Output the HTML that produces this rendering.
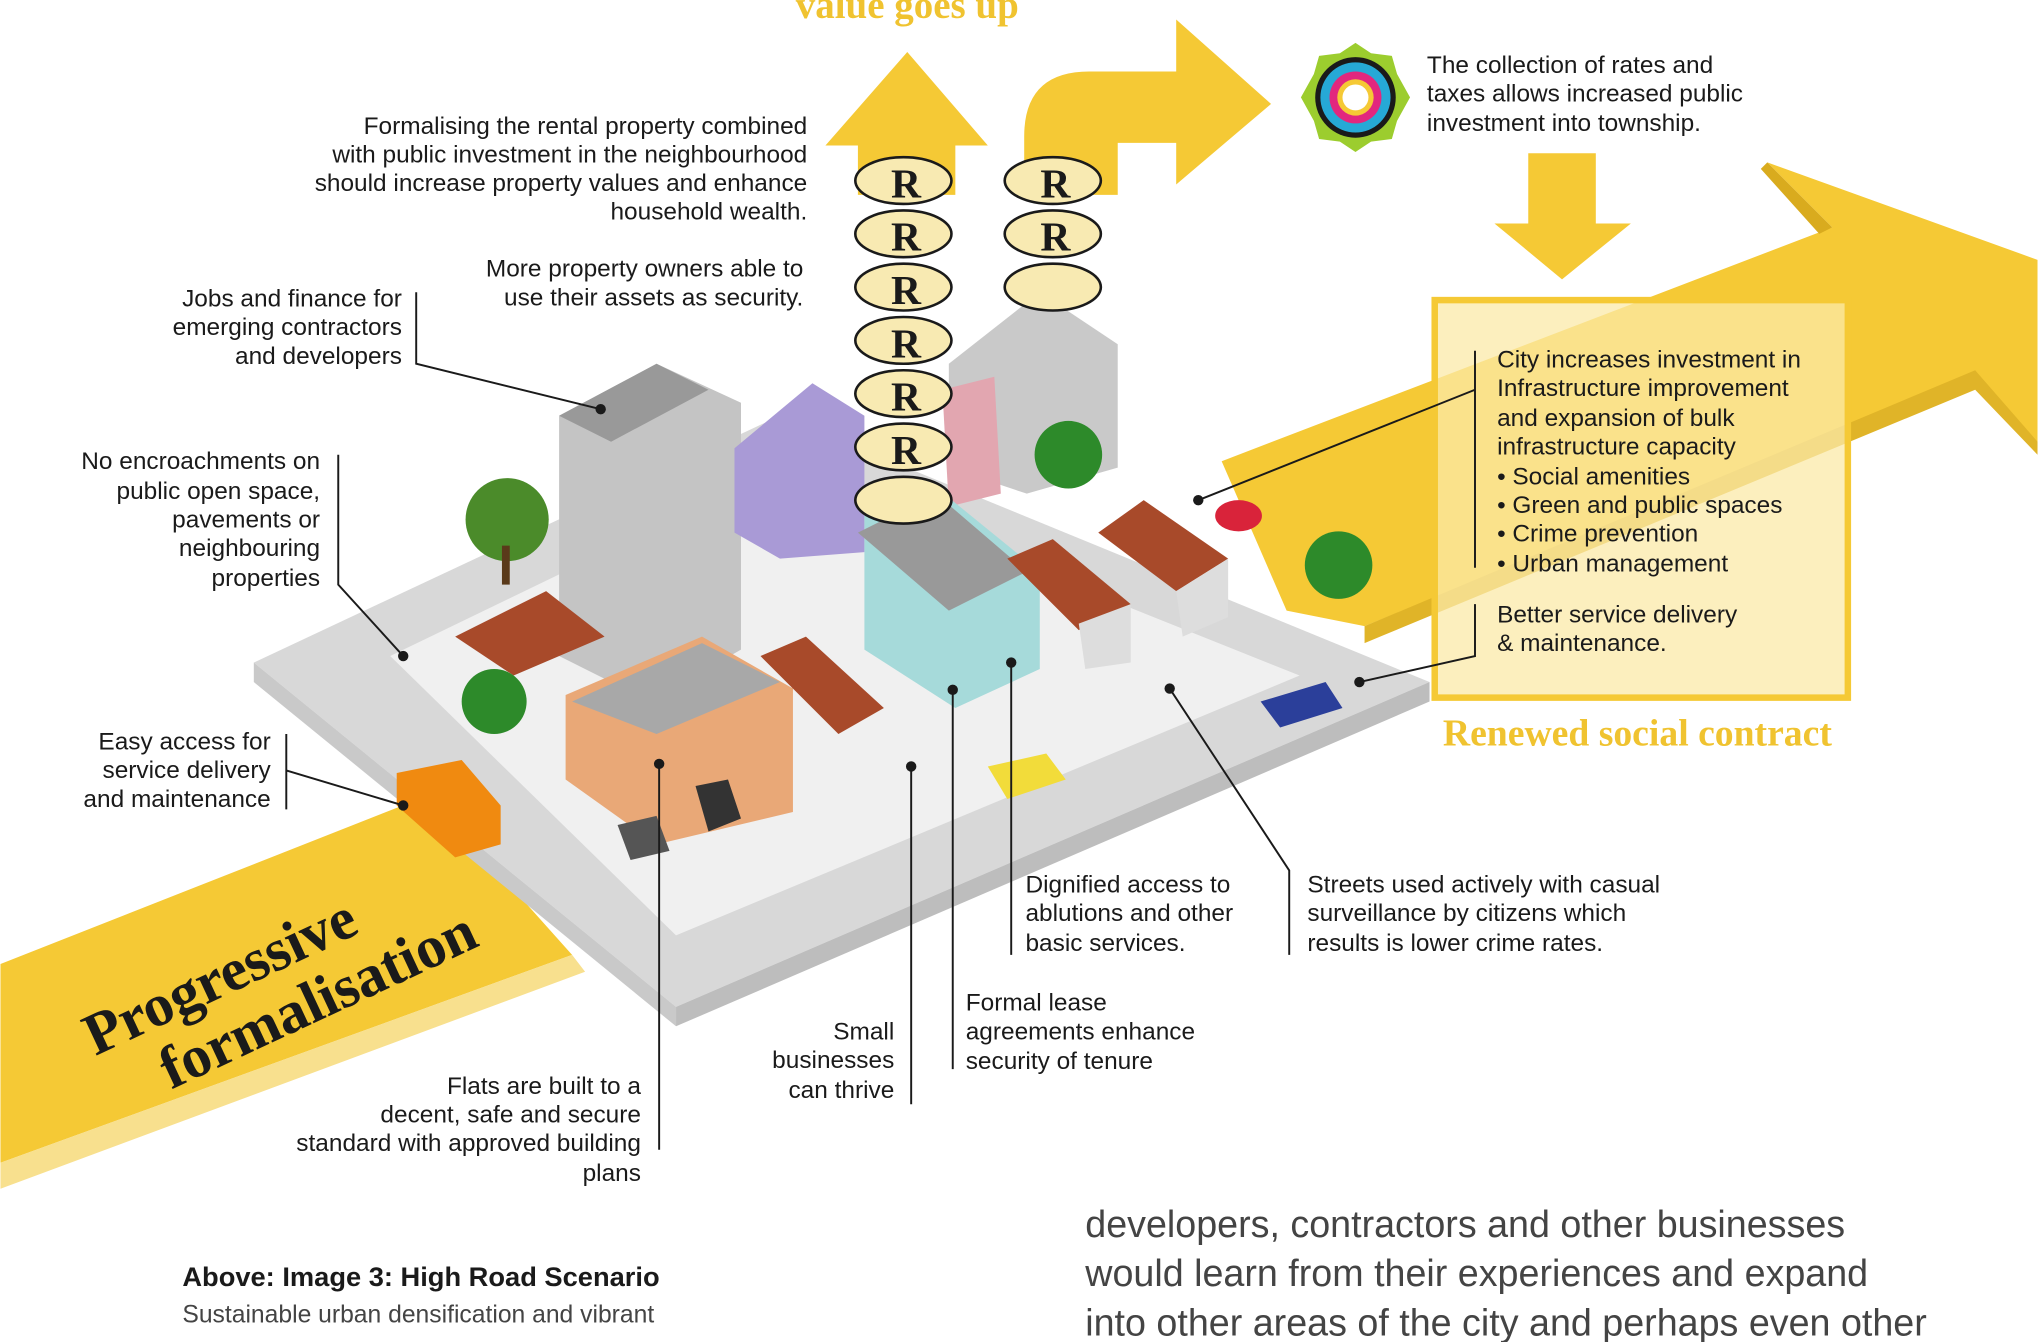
<!DOCTYPE html>
<html><head><meta charset="utf-8"><style>
html,body{margin:0;padding:0;background:#fff;}
svg{display:block;}
text{font-family:"Liberation Sans",sans-serif;fill:#1a1a1a;}
.l{font-size:18.8px;}
text.sf{font-family:"Liberation Serif",serif;font-weight:bold;}
</style></head><body>
<svg width="2038" height="1342" viewBox="0 0 1568 1033" xmlns="http://www.w3.org/2000/svg">
<rect width="1568" height="1033" fill="#fff"/>
<polygon points="940,355 1410,175 1360,125 1568,200 1568,345 1520,290 1050,482 990,470" fill="#f5c935"/>
<polygon points="1360,125 1410,175 1400,180 1355,130" fill="#d9ab1e"/>
<polygon points="1520,285 1568,340 1568,350 1520,300 1050,495 1050,482" fill="#e0b428"/>
<rect x="1104" y="231" width="318" height="306" fill="#fbeaa8" fill-opacity="0.75" stroke="#f5c935" stroke-width="5"/>
<polygon points="0,742 330,612 440,735 0,895" fill="#f5c935"/>
<polygon points="0,895 440,735 450,748 0,915" fill="#f8e08e"/>
<polygon points="635,112 698,40 760,112 735,112 735,150 660,150 660,112" fill="#f5c935"/>
<path d="M788,150 L788,105 Q788,55 838,55 L905,55 L905,15 L978,80 L905,142 L905,110 L860,110 L860,150 Z" fill="#f5c935"/>
<polygon points="1176,118 1228,118 1228,172 1255,172 1202,215 1150,172 1176,172" fill="#f5c935"/>
<g transform="translate(1043,75)">
<polygon points="0,-42 12,-34 28,-32 32,-18 42,0 32,18 28,32 12,34 0,42 -12,34 -28,32 -32,18 -42,0 -32,-18 -28,-32 -12,-34" fill="#9ccd2e"/>
<circle r="31" fill="#1a1a1a"/><circle r="27" fill="#26a9d6"/><circle r="20" fill="#e2277e"/><circle r="14" fill="#f5c935"/><circle r="10" fill="#fff"/>
</g>
<polygon points="195,510 600,320 1100,525 520,775" fill="#d8d8d8"/>
<polygon points="520,775 1100,525 1100,540 520,790" fill="#bdbdbd"/>
<polygon points="195,510 520,775 520,790 195,525" fill="#c9c9c9"/>
<polygon points="300,505 600,360 1000,520 520,720" fill="#f0f0f0"/>
<polygon points="430,320 505,280 570,310 570,500 500,540 430,505" fill="#c4c4c4"/>
<polygon points="430,320 505,280 545,300 470,340" fill="#999"/>
<polygon points="565,345 625,295 665,320 665,425 600,430 565,410" fill="#a99ad6"/>
<polygon points="730,280 800,225 860,265 860,360 790,380 730,360" fill="#c9c9c9"/>
<polygon points="725,300 765,290 770,380 730,390" fill="#e2a6b0"/>
<polygon points="665,395 720,375 800,440 800,515 735,545 665,500" fill="#a6dada"/>
<polygon points="660,410 720,380 790,440 730,470" fill="#999"/>
<polygon points="435,535 540,490 610,530 610,625 505,650 435,600" fill="#e9a877"/>
<polygon points="440,540 540,495 600,525 505,565" fill="#a8a8a8"/>
<polygon points="350,490 420,455 465,490 395,520" fill="#a84a2a"/>
<polygon points="585,505 620,490 680,545 645,565" fill="#a84a2a"/>
<polygon points="775,430 810,415 870,465 830,485" fill="#a84a2a"/>
<polygon points="845,410 880,385 945,430 905,455" fill="#a84a2a"/>
<polygon points="830,480 870,465 870,510 835,515" fill="#ddd"/>
<polygon points="905,455 945,430 945,475 910,490" fill="#ddd"/>
<ellipse cx="953" cy="397" rx="18" ry="12" fill="#d9233a"/>
<circle cx="390" cy="400" r="32" fill="#4b8b2a"/><rect x="386" y="420" width="6" height="30" fill="#5a3a1a"/>
<circle cx="380" cy="540" r="25" fill="#2d8a2a"/>
<circle cx="822" cy="350" r="26" fill="#2d8a2a"/>
<circle cx="1030" cy="435" r="26" fill="#2d8a2a"/>
<polygon points="305,595 355,585 385,620 385,650 350,660 305,620" fill="#f08a10"/>
<polygon points="760,590 805,580 820,600 775,615" fill="#f2dc3a"/>
<polygon points="970,540 1020,525 1033,545 985,560" fill="#2b3f9a"/>
<polygon points="535,605 560,600 570,630 545,640" fill="#333"/>
<polygon points="475,635 505,628 515,655 485,662" fill="#555"/>
<g stroke="#1a1a1a" stroke-width="2" fill="#f8eab2">
<ellipse cx="695" cy="385" rx="37" ry="18"/><ellipse cx="695" cy="344" rx="37" ry="18"/><ellipse cx="695" cy="303" rx="37" ry="18"/><ellipse cx="695" cy="262" rx="37" ry="18"/><ellipse cx="695" cy="221" rx="37" ry="18"/><ellipse cx="695" cy="180" rx="37" ry="18"/><ellipse cx="695" cy="139" rx="37" ry="18"/>
<ellipse cx="810" cy="221" rx="37" ry="18"/><ellipse cx="810" cy="180" rx="37" ry="18"/><ellipse cx="810" cy="139" rx="37" ry="18"/>
</g>
<g font-size="32" text-anchor="middle">
<text class="sf" x="697" y="152">R</text><text class="sf" x="697" y="193">R</text><text class="sf" x="697" y="234">R</text><text class="sf" x="697" y="275">R</text><text class="sf" x="697" y="316">R</text><text class="sf" x="697" y="357">R</text>
<text class="sf" x="812" y="152">R</text><text class="sf" x="812" y="193">R</text>
</g>
<g stroke="#1a1a1a" stroke-width="1.5" fill="none">
<path d="M320,225 L320,280 L462,315"/>
<path d="M260,350 L260,450 L310,505"/>
<path d="M220,565 L220,623 M220,593 L310,620"/>
<path d="M507,588 L507,885"/>
<path d="M701,590 L701,850"/>
<path d="M733,530 L733,823"/>
<path d="M778,510 L778,735"/>
<path d="M900,530 L992,670 L992,735"/>
<path d="M1135,270 L1135,437 M1135,300 L922,385"/>
<path d="M1135,465 L1135,505 L1046,525"/>
</g>
<g fill="#1a1a1a"><circle cx="462" cy="315" r="4"/><circle cx="310" cy="505" r="4"/><circle cx="310" cy="620" r="4"/><circle cx="507" cy="588" r="4"/><circle cx="701" cy="590" r="4"/><circle cx="733" cy="531" r="4"/><circle cx="778" cy="510" r="4"/><circle cx="900" cy="530" r="4"/><circle cx="922" cy="385" r="4"/><circle cx="1046" cy="525" r="4"/></g>
<text class="sf" x="698" y="14" text-anchor="middle" font-size="30" style="fill:#f0c330">value goes up</text>
<g class="l" text-anchor="end">
<text x="621" y="103">Formalising the rental property combined</text>
<text x="621" y="125">with public investment in the neighbourhood</text>
<text x="621" y="147">should increase property values and enhance</text>
<text x="621" y="169">household wealth.</text>
<text x="618" y="213">More property owners able to</text>
<text x="618" y="235">use their assets as security.</text>
<text x="309" y="236">Jobs and finance for</text>
<text x="309" y="258">emerging contractors</text>
<text x="309" y="280">and developers</text>
<text x="246" y="361">No encroachments on</text>
<text x="246" y="384">public open space,</text>
<text x="246" y="406">pavements or</text>
<text x="246" y="428">neighbouring</text>
<text x="246" y="451">properties</text>
<text x="208" y="577">Easy access for</text>
<text x="208" y="599">service delivery</text>
<text x="208" y="621">and maintenance</text>
<text x="493" y="842">Flats are built to a</text>
<text x="493" y="864">decent, safe and secure</text>
<text x="493" y="886">standard with approved building</text>
<text x="493" y="909">plans</text>
<text x="688" y="800">Small</text>
<text x="688" y="822">businesses</text>
<text x="688" y="845">can thrive</text>
</g>
<g class="l">
<text x="1098" y="56">The collection of rates and</text>
<text x="1098" y="78">taxes allows increased public</text>
<text x="1098" y="101">investment into township.</text>
<text x="1152" y="283">City increases investment in</text>
<text x="1152" y="305">Infrastructure improvement</text>
<text x="1152" y="328">and expansion of bulk</text>
<text x="1152" y="350">infrastructure capacity</text>
<text x="1152" y="373">• Social amenities</text>
<text x="1152" y="395">• Green and public spaces</text>
<text x="1152" y="417">• Crime prevention</text>
<text x="1152" y="440">• Urban management</text>
<text x="1152" y="479">Better service delivery</text>
<text x="1152" y="501">&amp; maintenance.</text>
<text x="789" y="687">Dignified access to</text>
<text x="789" y="709">ablutions and other</text>
<text x="789" y="732">basic services.</text>
<text x="1006" y="687">Streets used actively with casual</text>
<text x="1006" y="709">surveillance by citizens which</text>
<text x="1006" y="732">results is lower crime rates.</text>
<text x="743" y="778">Formal lease</text>
<text x="743" y="800">agreements enhance</text>
<text x="743" y="823">security of tenure</text>
</g>
<text class="sf" x="1260" y="574" text-anchor="middle" font-size="29" style="fill:#f0c330">Renewed social contract</text>
<g transform="rotate(-25 180 730)" font-size="46">
<text class="sf" x="48" y="760">Progressive</text>
<text class="sf" x="90" y="808">formalisation</text>
</g>
<text x="140" y="990" font-size="21" font-weight="bold">Above: Image 3: High Road Scenario</text>
<text x="140" y="1018" font-size="19" style="fill:#444">Sustainable urban densification and vibrant</text>
<g font-size="29">
<text x="835" y="952" style="fill:#444">developers, contractors and other businesses</text>
<text x="835" y="990" style="fill:#444">would learn from their experiences and expand</text>
<text x="835" y="1028" style="fill:#444">into other areas of the city and perhaps even other</text>
</g>
</svg>
</body></html>
